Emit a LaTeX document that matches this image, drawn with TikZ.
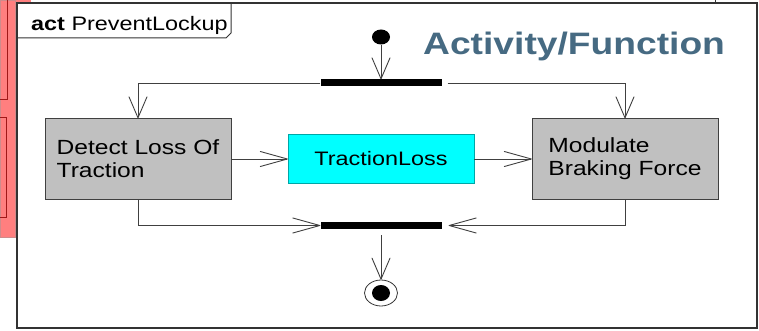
\documentclass[tikz,border=0pt]{standalone}
\usepackage{fontspec}
\setmainfont[FakeStretch=1.2]{Liberation Sans}
\usetikzlibrary{positioning, arrows.meta, shapes.geometric}
\definecolor{actgray}{HTML}{C0C0C0}
\definecolor{flowcyan}{HTML}{00FFFF}
\definecolor{titleblue}{HTML}{466A82}
\definecolor{slidered}{HTML}{FF7F7F}
\definecolor{slidedark}{HTML}{A01818}
\tikzset{
  x=1pt, y=-1pt,
  flow/.style={draw=black!75, line width=0.9pt},
  vtip/.style={-{Straight Barb[length=21pt,width=18pt,round]}},
  htip/.style={-{Straight Barb[length=27pt,width=15pt,round]}},
  action/.style={draw=black!75, fill=actgray, minimum width=186pt,
    minimum height=81pt, align=left, font=\fontsize{20.5}{23}\selectfont},
  pin/.style={draw=teal!70!cyan, fill=flowcyan, minimum width=186pt,
    minimum height=49pt, font=\fontsize{19.5}{23}\selectfont},
  bar/.style={fill=black, minimum width=121pt, minimum height=7pt, inner sep=0pt},
  start/.style={ellipse, fill=black, minimum width=18pt, minimum height=15pt, inner sep=0pt},
  stop/.style={ellipse, draw=black!80, line width=0.8pt, minimum width=33pt,
    minimum height=26pt, inner sep=0pt,
    path picture={\fill (path picture bounding box.center) ellipse (9pt and 8pt);}},
}

\begin{document}
\begin{tikzpicture}
  \useasboundingbox (0,0) rectangle (759,331);

  % slide behind the frame
  \fill[slidered] (0,0) rectangle (31,3);
  \filldraw[fill=slidered, draw=slidedark!50] (0,0) rectangle (15,237);
  \draw[slidedark] (7,0) -- (7,99) -- (0,99);
  \draw[slidedark] (0,117) -- (6,117) -- (6,217) -- (0,217);
  \draw[black!80] (715,0) -- (715,3);

  % frame and tab
  \filldraw[fill=white, draw=black!80, line width=1.2pt] (17,3) rectangle (757,328);
  \draw[black!80, line width=1pt] (17,38) -- (226,38) -- (231,33) -- (231,3);
  \node[anchor=base west, inner sep=0pt, font=\fontsize{19.5}{19.5}\selectfont]
    (frame label) at (31,31) {\textbf{act} PreventLockup};
  \node[anchor=base west, inner sep=0pt, text=titleblue,
    font=\bfseries\fontsize{31}{31}\selectfont] (heading) at (423,55) {Activity/Function};

  % nodes
  \node[start]                                  (init) at (381,37) {};
  \node[bar, below of=init, node distance=46pt] (fork) {};
  \node[pin, below of=fork, node distance=76pt] (loss) {TractionLoss};
  \node[action, left of=loss, node distance=243pt]  (detect)   {Detect Loss Of\\Traction};
  \node[action, right of=loss, node distance=244pt] (modulate) {Modulate\\Braking Force};
  \node[bar, below of=loss, node distance=66.5pt]   (join) {};
  \node[stop, below of=join, node distance=67.5pt]  (final) {};

  % flows
  \draw[flow, vtip] (init) -- (fork);
  \draw[flow, vtip] (fork.west) -| (detect.north);
  \draw[flow, vtip, shorten <=6pt] (fork.east) -| (modulate.north);
  \draw[flow, htip] (detect) -- (loss);
  \draw[flow, htip] (loss) -- (modulate);
  \draw[flow, htip] (detect.south) |- (join.west);
  \draw[flow, htip, shorten >=7pt] (modulate.south) |- (join.east);
  \draw[flow, vtip, shorten <=6pt] (join) -- (final);
\end{tikzpicture}
\end{document}
